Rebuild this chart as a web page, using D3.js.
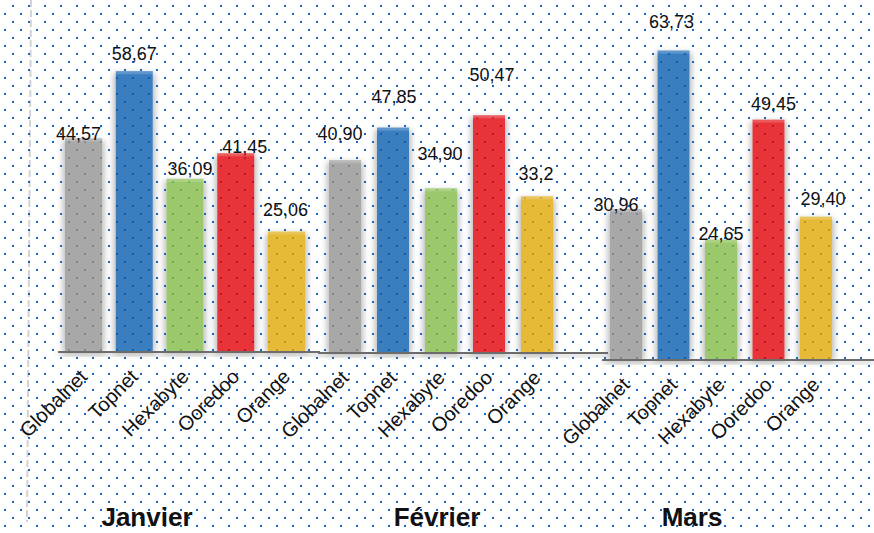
<!DOCTYPE html>
<html>
<head>
<meta charset="utf-8">
<script src="https://cdn.jsdelivr.net/npm/d3@7"></script>
<style>
  body { margin: 0; background: #fff; }
  text { font-family: "Liberation Sans", Arial, sans-serif; fill: #111; }
</style>
</head>
<body>
<script>
const W = 874, H = 533;

// data
const months = ["Janvier", "Février", "Mars"];
const operators = ["Globalnet", "Topnet", "Hexabyte", "Ooredoo", "Orange"];
const janvierValues = [44.57, 58.67, 36.09, 41.45, 25.06];
const fevrierValues = [40.90, 47.85, 34.90, 50.47, 33.2];
const marsValues = [30.96, 63.73, 24.65, 49.45, 29.40];
const janvierLabels = ["44,57", "58,67", "36,09", "41,45", "25,06"];
const fevrierLabels = ["40,90", "47,85", "34,90", "50,47", "33,2"];
const marsLabels = ["30,96", "63,73", "24,65", "49,45", "29,40"];
const colors = ["#a8a8a8", "#3b7ec0", "#9cc86c", "#e83438", "#e6b937"];

// each month was a separate little chart, so each gets its own frame
const panels = [
  {name: months[0], values: janvierValues, labels: janvierLabels,
   x0: 65, x1: 305, pad: 0.27, base: 351, k: 4.77, axis: [58, 320], title: 147,
   nudge: [[-5, 2], [0, -11], [5, -4], [9, 0], [-1, -15]]},
  {name: months[1], values: fevrierValues, labels: fevrierLabels,
   x0: 329, x1: 553, pad: 0.333, base: 352, k: 4.69, axis: [318, 608], title: 437,
   nudge: [[-5, -20], [1, -25], [-1, -28], [3, -34], [-1, -16]]},
  {name: months[2], values: marsValues, labels: marsLabels,
   x0: 610, x1: 832, pad: 0.326, base: 359, k: 4.84, axis: [602, 874], title: 692,
   nudge: [[-10, 2], [-2, -23], [0, 0], [5, -10], [7, -12]]}
];

const svg = d3.select("body").append("svg")
  .attr("width", W).attr("height", H);

const defs = svg.append("defs");
const pat = defs.append("pattern").attr("id", "dots")
  .attr("width", 16).attr("height", 16)
  .attr("patternUnits", "userSpaceOnUse");
pat.append("rect").attr("x", 12).attr("y", 5).attr("width", 2).attr("height", 2).attr("fill", "#1467c8");
pat.append("rect").attr("x", 4).attr("y", 13).attr("width", 2).attr("height", 2).attr("fill", "#1467c8");
defs.append("filter").attr("id", "blur")
  .attr("x", "-50%").attr("y", "-10%").attr("width", "200%").attr("height", "120%")
  .append("feGaussianBlur").attr("stdDeviation", 3);

svg.append("rect").attr("width", W).attr("height", H).attr("fill", "#fff");

// colour under an 80% opaque bar so that it looks like c over white
function under(c) {
  const r = d3.rgb(c);
  return d3.rgb((r.r - 51) / 0.8, (r.g - 51) / 0.8, (r.b - 51) / 0.8).formatHex();
}

panels.forEach(p => {
  p.x = d3.scaleBand().domain(operators).range([p.x0, p.x1]).paddingInner(p.pad).paddingOuter(0);
  p.y = d3.scaleLinear().domain([0, 100]).range([p.base, p.base - 100 * p.k]);
});

// shadows
const shadows = svg.append("g");
panels.forEach(p => {
  shadows.selectAll(null).data(p.values).enter().append("rect")
    .attr("x", (d, i) => p.x(operators[i]) - 2)
    .attr("y", d => p.y(d) + 2)
    .attr("width", p.x.bandwidth() + 4)
    .attr("height", d => p.base - p.y(d))
    .attr("fill", "#000").attr("opacity", 0.28)
    .attr("filter", "url(#blur)");
  shadows.append("rect")
    .attr("x", p.axis[0]).attr("y", p.base + 2)
    .attr("width", p.axis[1] - p.axis[0]).attr("height", 3)
    .attr("fill", "#000").attr("opacity", 0.25)
    .attr("filter", "url(#blur)");
  shadows.selectAll(null).data(p.values).enter().append("rect")
    .attr("x", (d, i) => p.x(operators[i]))
    .attr("y", d => p.y(d))
    .attr("width", p.x.bandwidth())
    .attr("height", d => p.base - p.y(d))
    .attr("fill", "#fff");
});

// dashed guide on the left
svg.append("line")
  .attr("x1", 31).attr("y1", 0).attr("x2", 27).attr("y2", 522)
  .attr("stroke", "#d2d2d2").attr("stroke-width", 2)
  .attr("stroke-dasharray", "7 3");

svg.append("rect").attr("width", W).attr("height", H).attr("fill", "url(#dots)");

panels.forEach(p => {
  const g = svg.append("g");
  g.selectAll(".bar").data(p.values).enter().append("rect")
    .attr("class", "bar")
    .attr("x", (d, i) => p.x(operators[i]))
    .attr("y", d => p.y(d))
    .attr("width", p.x.bandwidth())
    .attr("height", d => p.base - p.y(d))
    .attr("fill", (d, i) => under(colors[i]))
    .attr("fill-opacity", 0.8);
  g.selectAll(".hi").data(p.values).enter().append("rect")
    .attr("x", (d, i) => p.x(operators[i]))
    .attr("y", d => p.y(d))
    .attr("width", p.x.bandwidth())
    .attr("height", 3)
    .attr("fill", "#fff").attr("opacity", 0.18);

  g.append("line")
    .attr("x1", p.axis[0]).attr("x2", p.axis[1])
    .attr("y1", p.base + 1).attr("y2", p.base + 1)
    .attr("stroke", "#6c6c6c").attr("stroke-width", 2);

  const ax = g.append("g").attr("transform", `translate(0,${p.base})`)
    .call(d3.axisBottom(p.x).tickSize(0).tickSizeOuter(0));
  ax.select(".domain").remove();
  ax.selectAll(".tick text")
    .attr("x", 0).attr("y", 0).attr("dy", 0)
    .attr("transform", "translate(5,27) rotate(-45)")
    .attr("text-anchor", "end")
    .style("font-family", "'Liberation Sans', Arial, sans-serif")
    .style("font-size", "20px")
    .attr("fill", "#111");

  g.selectAll(".val").data(p.values).enter().append("text")
    .attr("class", "val")
    .attr("x", (d, i) => p.x(operators[i]) + p.x.bandwidth() / 2 + p.nudge[i][0])
    .attr("y", (d, i) => p.y(d) + p.nudge[i][1])
    .attr("text-anchor", "middle")
    .style("font-size", "18px")
    .text((d, i) => p.labels[i]);

  g.append("text")
    .attr("x", p.title).attr("y", 526)
    .attr("text-anchor", "middle")
    .style("font-size", "26px").style("font-weight", "bold")
    .text(p.name);
});
</script>
</body>
</html>
